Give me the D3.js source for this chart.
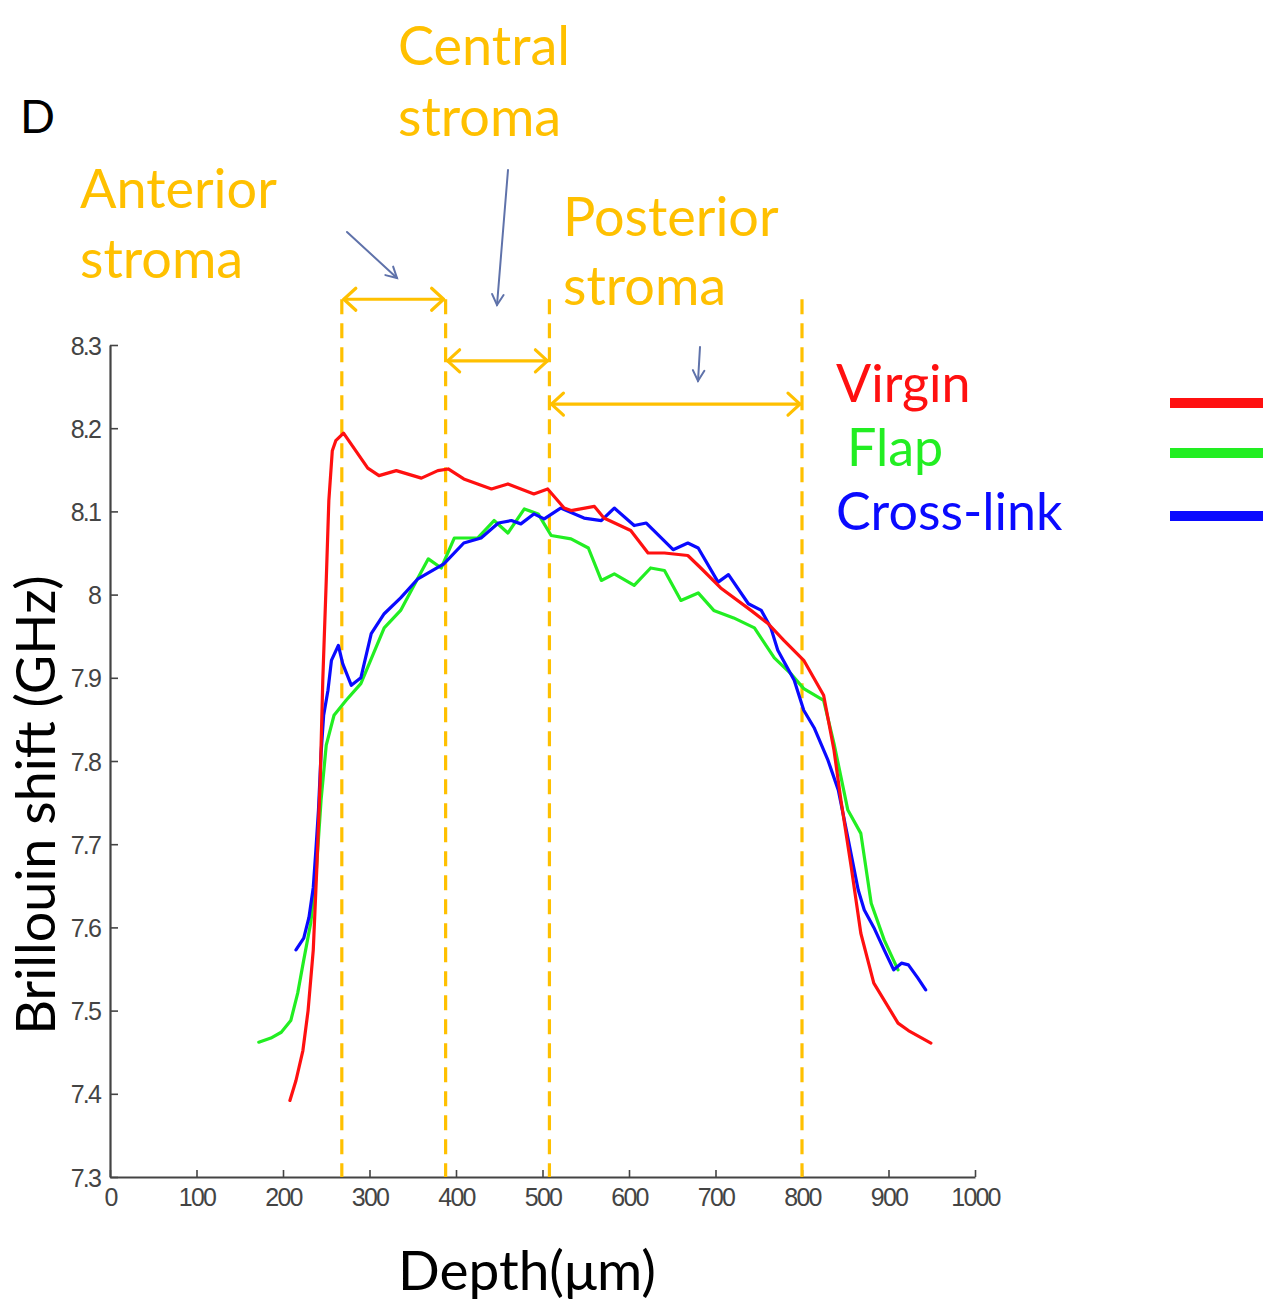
<!DOCTYPE html>
<html>
<head>
<meta charset="utf-8">
<script src="https://cdn.jsdelivr.net/npm/d3@7"></script>
<style>
  html, body { margin: 0; padding: 0; background: #ffffff; }
  svg { display: block; }
  .tick text { font-family: "Liberation Sans", Arial, sans-serif; }
</style>
</head>
<body>
<svg id="chart" width="1270" height="1302"></svg>
<script>
// Brillouin shift depth profiles of three corneal samples
const seriesNames = ["Virgin", "Flap", "Cross-link"];
const seriesColors = ["#ff1010", "#22ee22", "#0a0aff"];

const virginDepth = [208, 215, 223, 229, 235, 239, 243, 246, 250, 253, 257, 261, 270, 284, 298, 311, 331, 360, 379, 391, 409, 441, 460, 490, 506, 525, 533, 560, 571, 602, 622, 641, 668, 683, 706, 741, 761, 779, 802, 825, 837, 845, 857, 868, 883, 911, 923, 949];
const virginShift = [7.392, 7.416, 7.452, 7.500, 7.573, 7.669, 7.777, 7.897, 8.017, 8.113, 8.173, 8.185, 8.194, 8.173, 8.152, 8.143, 8.149, 8.140, 8.149, 8.151, 8.139, 8.127, 8.133, 8.121, 8.127, 8.104, 8.101, 8.106, 8.092, 8.077, 8.050, 8.050, 8.047, 8.032, 8.008, 7.981, 7.965, 7.945, 7.921, 7.879, 7.813, 7.753, 7.672, 7.593, 7.533, 7.485, 7.476, 7.461];

const flapDepth = [172, 186, 198, 209, 217, 224, 232, 238, 244, 250, 259, 273, 290, 317, 336, 356, 368, 383, 398, 425, 444, 460, 479, 495, 510, 533, 553, 568, 583, 606, 625, 641, 660, 680, 698, 721, 745, 768, 787, 802, 825, 837, 853, 868, 880, 895, 911];
const flapShift = [7.462, 7.467, 7.474, 7.488, 7.521, 7.561, 7.605, 7.660, 7.753, 7.819, 7.855, 7.873, 7.893, 7.960, 7.981, 8.020, 8.043, 8.032, 8.068, 8.068, 8.089, 8.074, 8.103, 8.097, 8.071, 8.067, 8.056, 8.017, 8.025, 8.011, 8.032, 8.029, 7.993, 8.002, 7.981, 7.972, 7.960, 7.924, 7.905, 7.887, 7.873, 7.821, 7.741, 7.713, 7.629, 7.585, 7.549];

const crossDepth = [215, 224, 230, 235, 238, 241, 244, 247, 252, 256, 264, 269, 279, 290, 302, 317, 336, 356, 386, 409, 429, 449, 464, 475, 490, 502, 521, 548, 568, 583, 606, 620, 651, 668, 680, 703, 715, 738, 753, 764, 772, 791, 802, 814, 830, 842, 853, 865, 872, 883, 895, 906, 915, 923, 934, 943];
const crossShift = [7.573, 7.587, 7.612, 7.648, 7.693, 7.741, 7.809, 7.855, 7.885, 7.921, 7.939, 7.917, 7.891, 7.900, 7.953, 7.977, 7.996, 8.019, 8.037, 8.062, 8.068, 8.086, 8.089, 8.085, 8.097, 8.091, 8.104, 8.092, 8.089, 8.104, 8.083, 8.086, 8.054, 8.062, 8.056, 8.015, 8.024, 7.989, 7.981, 7.960, 7.933, 7.897, 7.861, 7.840, 7.801, 7.765, 7.708, 7.645, 7.621, 7.600, 7.573, 7.549, 7.557, 7.555, 7.539, 7.525];

// Stroma region boundaries (depth, µm) and their bracket heights (GHz)
const regionBounds = [268, 388, 508, 800];
const regionNames = ["Anterior stroma", "Central stroma", "Posterior stroma"];
const bracketLevels = [8.355, 8.281, 8.229];
const boundTop = 8.355;

const xTicks = [0, 100, 200, 300, 400, 500, 600, 700, 800, 900, 1000];
const yTicks = [7.3, 7.4, 7.5, 7.6, 7.7, 7.8, 7.9, 8.0, 8.1, 8.2, 8.3];

const svg = d3.select("#chart");
const x = d3.scaleLinear().domain([0, 1000]).range([110, 975]);
const y = d3.scaleLinear().domain([7.3, 8.3]).range([1177, 345]);

const FONT = "Lato, 'Open Sans', sans-serif";
const GOLD = "#ffc000";
const POINTER = "#5f72aa";

// Axes with inward ticks
const gx = svg.append("g").attr("transform", `translate(0,${y(7.3)})`)
  .call(d3.axisBottom(x).tickValues(xTicks).tickSize(-7).tickPadding(11).tickSizeOuter(0)
    .tickFormat(d3.format("d")));
const gy = svg.append("g").attr("transform", `translate(${x(0)},0)`)
  .call(d3.axisLeft(y).tickValues(yTicks).tickSize(-8).tickPadding(10).tickSizeOuter(0)
    .tickFormat(d => (d === 8 ? "8" : d3.format(".1f")(d))));
[gx, gy].forEach(g => {
  g.select(".domain").attr("stroke", "#444").attr("stroke-width", 2.2);
  g.selectAll(".tick line").attr("stroke", "#444").attr("stroke-width", 1.6);
  g.selectAll(".tick text").attr("fill", "#444").attr("font-size", 25)
    .attr("letter-spacing", -1.8);
});
gy.selectAll(".tick text").attr("dy", "0.36em");

// Region boundary lines
svg.append("g").selectAll("line").data(regionBounds).join("line")
  .attr("x1", d => x(d)).attr("x2", d => x(d))
  .attr("y1", y(boundTop)).attr("y2", y(7.3))
  .attr("stroke", GOLD).attr("stroke-width", 3.2)
  .attr("stroke-dasharray", "15 9");

// Double-headed brackets for each region
function doubleArrow(g, x1, x2, yy) {
  const h = 11, w = 14;
  g.append("line").attr("x1", x1 + 2).attr("x2", x2 - 2).attr("y1", yy).attr("y2", yy);
  g.append("path").attr("d", `M${x1 + w},${yy - h}L${x1 + 2},${yy}L${x1 + w},${yy + h}`).attr("fill", "none");
  g.append("path").attr("d", `M${x2 - w},${yy - h}L${x2 - 2},${yy}L${x2 - w},${yy + h}`).attr("fill", "none");
}
const brackets = svg.append("g").attr("stroke", GOLD).attr("stroke-width", 3.2)
  .attr("stroke-linecap", "round").attr("stroke-linejoin", "round");
regionNames.forEach((n, i) => {
  doubleArrow(brackets, x(regionBounds[i]), x(regionBounds[i + 1]), y(bracketLevels[i]));
});

// Data curves
const line = d3.line().x(d => x(d[0])).y(d => y(d[1]));
const series = [
  d3.zip(flapDepth, flapShift),
  d3.zip(crossDepth, crossShift),
  d3.zip(virginDepth, virginShift)
];
const seriesColorOrder = [seriesColors[1], seriesColors[2], seriesColors[0]];
svg.append("g").selectAll("path").data(series).join("path")
  .attr("d", line).attr("fill", "none")
  .attr("stroke", (d, i) => seriesColorOrder[i])
  .attr("stroke-width", 3.2).attr("stroke-linejoin", "round").attr("stroke-linecap", "round");

// Region titles
const labels = [
  { lines: ["Anterior", "stroma"], x: 80, y: [208, 278] },
  { lines: ["Central", "stroma"], x: 398, y: [65, 136] },
  { lines: ["Posterior", "stroma"], x: 563, y: [236, 305] }
];
labels.forEach(l => {
  l.lines.forEach((t, j) => {
    svg.append("text").attr("x", l.x).attr("y", l.y[j]).text(t)
      .attr("font-family", FONT).attr("font-size", 54).attr("fill", GOLD);
  });
});

// Pointer arrows from titles to brackets
const pointers = [
  [[347, 232], [397, 278]],
  [[508, 170], [497, 305]],
  [[700, 347], [698, 381]]
];
const pg = svg.append("g").attr("stroke", POINTER).attr("stroke-width", 2).attr("fill", "none")
  .attr("stroke-linecap", "round");
pointers.forEach(([a, b]) => {
  pg.append("line").attr("x1", a[0]).attr("y1", a[1]).attr("x2", b[0]).attr("y2", b[1]);
  const ang = Math.atan2(b[1] - a[1], b[0] - a[0]);
  const L = 12, spread = 0.5;
  const p1 = [b[0] - L * Math.cos(ang - spread), b[1] - L * Math.sin(ang - spread)];
  const p2 = [b[0] - L * Math.cos(ang + spread), b[1] - L * Math.sin(ang + spread)];
  pg.append("path").attr("d", `M${p1}L${b}L${p2}`);
});

// Panel letter
svg.append("text").attr("x", 20).attr("y", 133).text("D")
  .attr("font-family", FONT).attr("font-size", 46).attr("fill", "#000");

// Legend
const legendTextX = [836, 847, 836];
const legendTextY = [402, 466, 530];
const legendLineY = [403, 453, 516];
seriesNames.forEach((n, i) => {
  svg.append("text").attr("x", legendTextX[i]).attr("y", legendTextY[i]).text(n)
    .attr("font-family", FONT).attr("font-size", 52).attr("fill", seriesColors[i]);
  svg.append("line").attr("x1", 1170).attr("x2", 1263)
    .attr("y1", legendLineY[i]).attr("y2", legendLineY[i])
    .attr("stroke", seriesColors[i]).attr("stroke-width", 10);
});

// Axis titles
svg.append("text").attr("x", 398).attr("y", 1290).text("Depth(μm)")
  .attr("font-family", FONT).attr("font-size", 55).attr("fill", "#000");
svg.append("text").attr("transform", "translate(55,805) rotate(-90)")
  .attr("text-anchor", "middle").text("Brillouin shift (GHz)")
  .attr("font-family", FONT).attr("font-size", 54).attr("fill", "#000");
</script>
</body>
</html>
